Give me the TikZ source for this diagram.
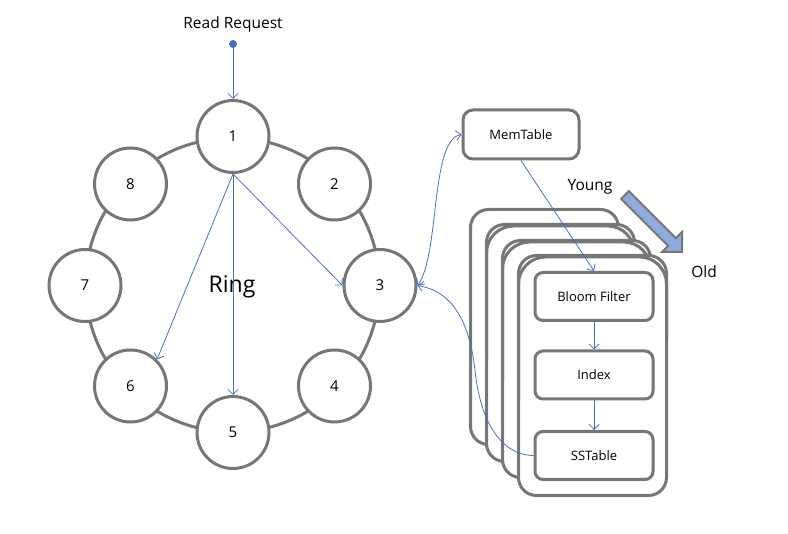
\documentclass[tikz,border=0pt]{standalone}
\usepackage{fontspec}
\setmainfont{Open Sans}
\usetikzlibrary{arrows.meta}
\definecolor{ringgray}{RGB}{118,118,118}
\definecolor{linkblue}{RGB}{70,114,196}
\definecolor{agefill}{RGB}{143,170,220}
\begin{document}
\begin{tikzpicture}[x=1pt,y=-1pt,
  peer/.style={circle,draw=ringgray,line width=3pt,fill=white,minimum size=72pt,inner sep=0pt,font=\fontsize{15}{17}\selectfont},
  stage/.style={draw=ringgray,line width=3pt,rounded corners=8pt,fill=white,minimum width=118pt,minimum height=48pt,inner sep=0pt,font=\fontsize{13}{15}\selectfont},
  link/.style={draw=linkblue,line width=0.8pt,-{Straight Barb[length=5pt,width=10pt]}},
  biglink/.style={draw=linkblue,line width=0.8pt,{Straight Barb[length=5pt,width=10pt]}-{Straight Barb[length=5pt,width=10pt]}},
  layer/.style={draw=ringgray,line width=3pt,rounded corners=18pt,fill=white},
  layerrim/.style={draw=ringgray,line width=3pt,rounded corners=27pt},
  caption/.style={font=\fontsize{15.5}{18}\selectfont}]
\useasboundingbox (0,0) rectangle (788,534);

% the ring and its peers
\draw[ringgray,line width=3pt] (232.5,285) circle[radius=147];
\node[peer] (n1) at (233,136.5) {1};
\node[peer] (n2) at (334.5,184) {2};
\node[peer] (n3) at (380,285.5) {3};
\node[peer] (n4) at (334.5,386) {4};
\node[peer] (n5) at (233,432.5) {5};
\node[peer] (n6) at (130.5,386) {6};
\node[peer] (n7) at (85,285.5) {7};
\node[peer] (n8) at (130.5,184) {8};
\node[font=\fontsize{23}{26}\selectfont] (ringlabel) at (232,287) {Ring};

% incoming read request
\node[caption] (req) at (233,24) {Read Request};
\fill[linkblue] (233,44) circle[radius=4];
\coordinate (reqdot) at (233,44);
\draw[link] (reqdot) -- (n1.north);

% replica lookups from the coordinator
\draw[link] (n1.south) -- (n3.west);
\draw[link] (n1.south) -- (n5.north);
\draw[link] (n1.south) -- (n6.north east);

% stacked SSTable layers, oldest at the back; each newer layer has a doubled top rim
\draw[layer] (470.5,209.5) rectangle (618.5,444.5);
\draw[layer] (486.5,224.5) rectangle (634.5,461.5);
\draw[layerrim] (486.5,360) -- (486.5,226) -- (634.5,226) -- (634.5,300);
\draw[layer] (502.5,240.5) rectangle (650.5,477.5);
\draw[layerrim] (502.5,380) -- (502.5,242) -- (650.5,242) -- (650.5,320);
\draw[layer] (518.5,255.5) rectangle (666.5,495.5);
\draw[layerrim] (518.5,400) -- (518.5,257) -- (666.5,257) -- (666.5,340);

% storage components
\node[stage,minimum width=116pt,minimum height=49pt,rounded corners=10pt] (mem) at (521,134.5) {MemTable};
\node[stage] (bloom) at (594,296.5) {Bloom Filter};
\node[stage] (index) at (594,375) {Index};
\node[stage] (sst) at (594,455.5) {SSTable};

\draw[link] (mem.south) -- (bloom.north);
\draw[link] (bloom.south) -- (index.north);
\draw[link] (index.south) -- (sst.north);

\draw[biglink] (n3.east) .. controls (440,255) and (430,140) .. (mem.west);
\draw[link] (sst.west) .. controls (500,455) and (480,420) .. (475,370)
  .. controls (468,310) and (445,290) .. (n3.east);

% age arrow
\node[caption] (young) at (590,187) {Young};
\node[caption] (old) at (704,272) {Old};
\draw[ringgray,line width=2pt,fill=agefill,line join=miter]
  (628.9,191.1) -- (675.9,238.1) -- (682,232) -- (682,252) -- (662,252)
  -- (668.1,245.9) -- (621.1,198.9) -- cycle;
\end{tikzpicture}
\end{document}
